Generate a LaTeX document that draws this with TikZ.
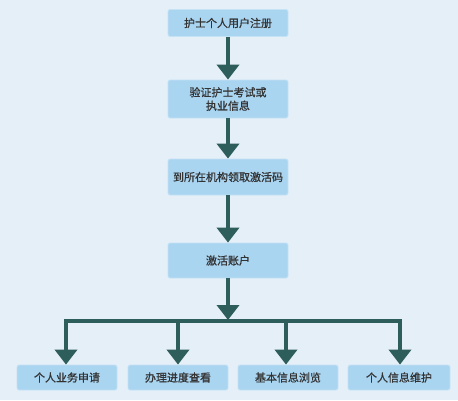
\documentclass[tikz,border=0pt]{standalone}
\usepackage{fontspec}
\setmainfont{Noto Sans CJK SC}
\newfontfamily\cjkm[FakeBold=0.9]{Noto Sans CJK SC}
\usetikzlibrary{arrows.meta}
\definecolor{bgc}{HTML}{E4EFF7}
\definecolor{boxc}{HTML}{A9D5F1}
\definecolor{boxb}{HTML}{C6E3F5}
\definecolor{arrc}{HTML}{2E5E5B}
\definecolor{txtc}{HTML}{333333}
\tikzset{
  box/.style={draw=boxb, line width=0.8pt, fill=boxc, rounded corners=2pt, minimum height=26pt, text=txtc, font=\cjkm\fontsize{11pt}{13.5pt}\selectfont, align=center, inner sep=0pt},
  flow/.style={draw=arrc, line width=4.6pt, -{Triangle[length=15pt,width=22pt]}},
  bar/.style={draw=arrc, line width=4.6pt, line cap=rect}
}
\begin{document}
\begin{tikzpicture}[x=1pt,y=-1pt]
\fill[bgc] (0,0) rectangle (458,400);
\useasboundingbox (0,0) rectangle (458,400);
\node[box, minimum width=120pt, minimum height=27pt] (b1) at (228,23) {护士个人用户注册};
\node[box, minimum width=120pt, minimum height=38pt] (b2) at (228,99) {验证护士考试或\\执业信息};
\node[box, minimum width=120pt, minimum height=36pt] (b3) at (228,177) {到所在机构领取激活码};
\node[box, minimum width=120pt, minimum height=35pt] (b4) at (228,260.5) {激活账户};
\node[box, minimum width=100pt, minimum height=25pt] (c1) at (67,377.5) {个人业务申请};
\node[box, minimum width=100pt, minimum height=25pt] (c2) at (178,377.5) {办理进度查看};
\node[box, minimum width=100pt, minimum height=25pt] (c3) at (288,377.5) {基本信息浏览};
\node[box, minimum width=102pt, minimum height=25pt] (c4) at (399,377.5) {个人信息维护};
\draw[flow] (b1) -- (b2);
\draw[flow] (b2) -- (b3);
\draw[flow] (b3) -- (b4);
\coordinate (j0) at (228,320);
\coordinate (j1) at (66,321);
\coordinate (j2) at (178,321);
\coordinate (j3) at (286,321);
\coordinate (j4) at (400,321);
\draw[bar] (j1) -- (j4);
\draw[flow] (b4.south) -- (j0);
\draw[flow] (j1) -- (j1 |- c1.north);
\draw[flow] (j2) -- (j2 |- c2.north);
\draw[flow] (j3) -- (j3 |- c3.north);
\draw[flow] (j4) -- (j4 |- c4.north);
\end{tikzpicture}
\end{document}
